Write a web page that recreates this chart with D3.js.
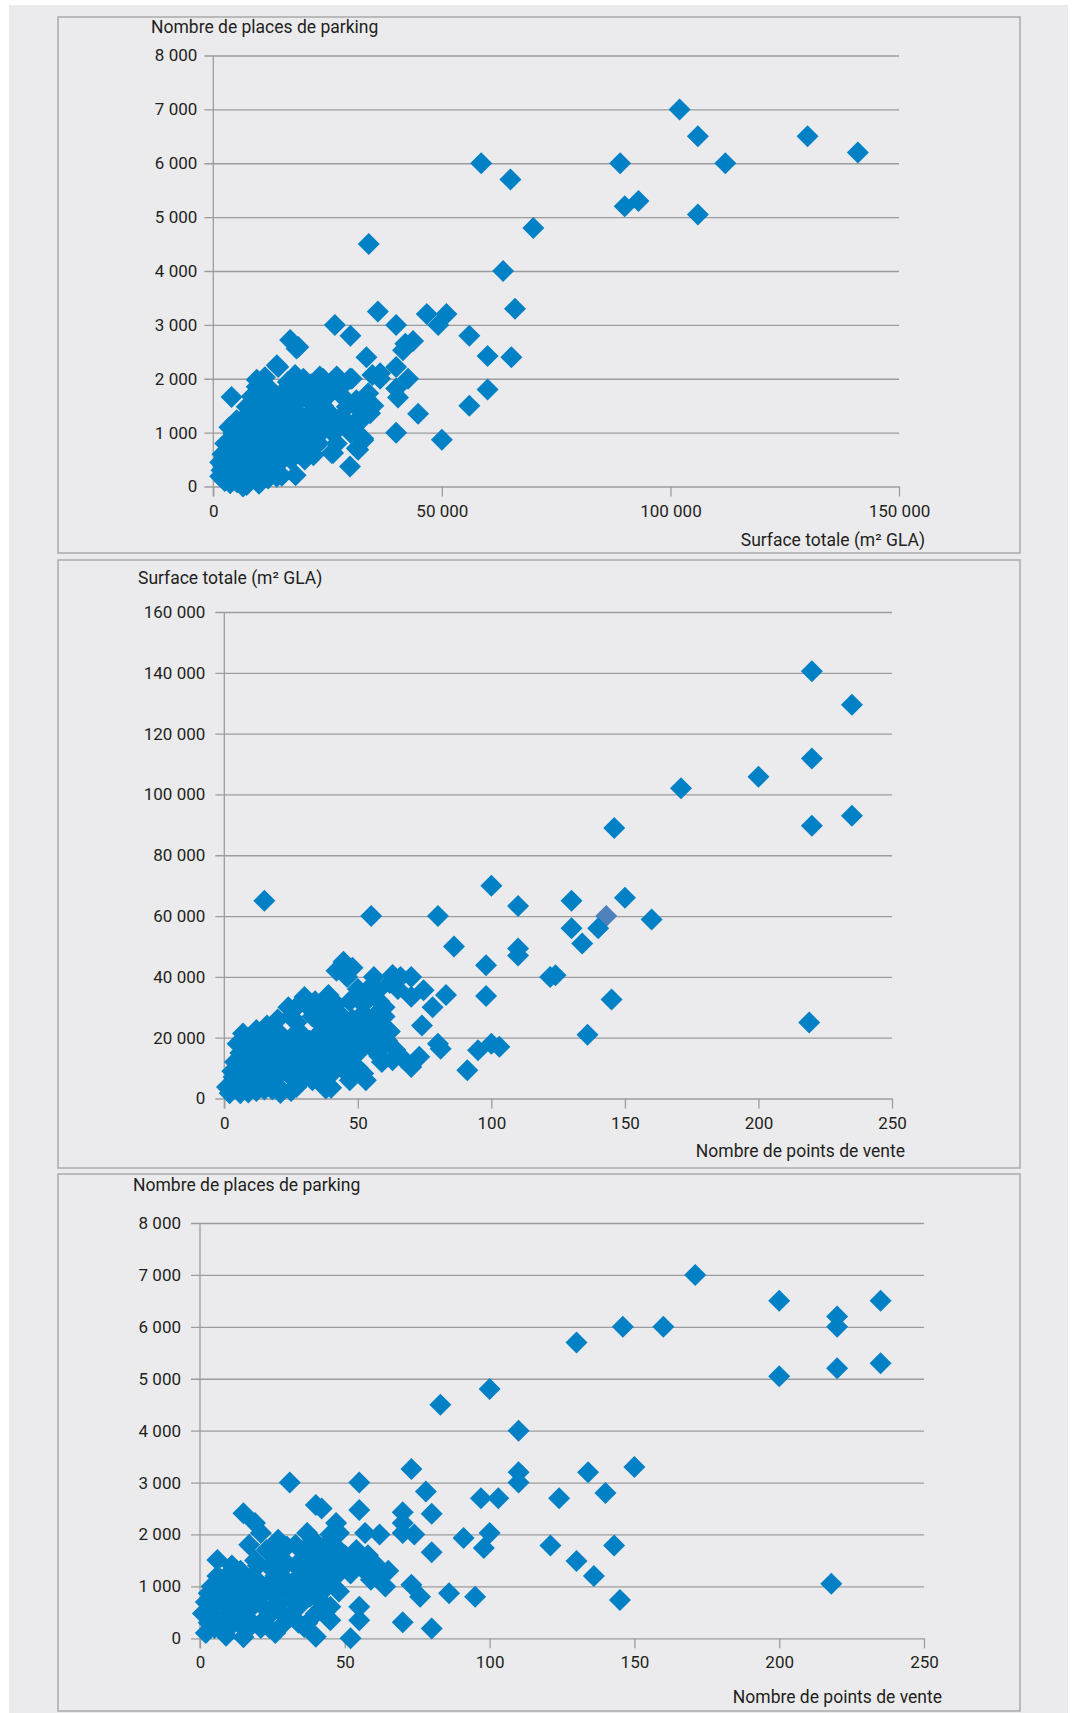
<!DOCTYPE html>
<html><head><meta charset="utf-8">
<script src="https://cdn.jsdelivr.net/npm/d3@7"></script>
<style>
body{margin:0;background:#fff}
text{font-family:Roboto,"Noto Sans",sans-serif;fill:#231f20}
</style>
</head><body>
<svg id="c" width="1073" height="1713"></svg>
<script>
// ---------- DATA ----------
// Panel 1: surface totale (m² GLA) vs nombre de places de parking
const surfaceParking = [
[102000,7000],[106000,6500],[112000,6000],[130000,6500],[141000,6200],[89000,6000],[90000,5200],[93000,5300],[106000,5050],[58600,6000],[65000,5700],[70000,4800],[34000,4500],[63400,4000],[66000,3300],[56000,2800],[60000,2420],[65200,2400],[60000,1800],[56000,1500],[50000,870],
[46700,3200],[49200,3000],[51000,3200],[36000,3250],[26600,3000],[30000,2800],[40000,3000],[44800,1350],[40000,1000],[40400,1650],[40000,1820],[40000,2220],[42600,2000],[42000,2650],[43700,2700],[41500,2530],[33500,2400],[34800,2070],[36500,2000],[33900,1730],[34300,1360],[32800,860],[31700,680],[29900,370],[25900,620],[21900,580],[18000,210],
[29900,2000],[24000,2000],[26600,2000],[19700,2000],[16800,2720],[18200,2560],[18600,2590],[13900,2250],[14200,2220],[4000,1660],[9500,1980],[11300,2030],[16300,1940],[17900,2070],[16000,1820],[20000,1910],[23300,2040],[27000,2040],[30300,2000],
[21400,1900],[25500,1720],[28400,1660],[31300,1600],[31700,1450],[29100,1180],[26800,1150],[23200,1100],[20400,1280],[17500,1090],[14600,920],[12400,1280],[8700,1360],[7300,1100],[5800,930],[4400,750],[3300,560],[2200,380],[1500,190],
[7300,1480],[6600,1230],[12400,1540],[16800,1420],[21100,1360],[24800,1420],[29200,1480],[32800,1450],[31400,1230],[27700,1110],[25500,1050],[32800,890],[31400,710],[26200,620],[13900,180],[11700,310],[9500,430],[3700,60],[7300,30],[2200,180],[2900,490],[2600,800],[4400,990],[5100,1230],[8400,1670],[9500,1850],[11700,1170],[14600,860],[19000,1050],[22600,920],[9500,800],[11700,550],[7300,550],[5800,310],[9500,180],[13100,430],[16000,620],[16800,860],
[1800,300],[2500,100],[3000,250],[3500,400],[4000,150],[4500,500],[5000,700],[5500,200],[6000,600],[6500,900],[7000,400],[7500,750],[8000,250],[8500,1000],[9000,650],[10000,950],[10500,300],[11000,800],[12000,1050],[13000,700],[14000,1200],[15000,1000],[6000,1100],[4800,1000],[3800,850],[10000,1300],[11000,1500],[9000,1550],[8000,1250],[13000,1500],[15500,1300],[18000,1400],[19000,1600],[22000,1500],[24000,1250],[5200,80],[8000,100],[6500,0],[12000,150],[3200,680],[2000,600],[1500,450],[10000,50],[14000,400],[15000,600],[17000,1200],[20000,900],[12500,1800],[10500,1700],[14500,1650],[17000,1750],[22000,1700],
[16000,1300],[18000,1000],[20000,1200],[21000,700],[23000,800],[24000,1500],[26000,1300],[28000,1300],[30000,1000],[27000,800],[19000,750],[17000,500],[15000,200],[12000,700],[10000,600],[8500,300],[7000,200],[6000,800],[5500,450],[4500,300],[3500,1100],[9000,1200],[11000,1000],[13500,1000],[16000,1550],[18500,1800],[21000,1600],[23000,1800],[25500,1900],[14000,1400],[12000,1300],[7000,1300],[20000,500],[22000,1100],[18000,600],[28000,1850],[32000,1200],[35000,1500],[36500,2100]
];
// Panel 2: nombre de points de vente vs surface totale (m² GLA)
const shopsSurface = [
[220,140500],[235,129500],[220,111800],[200,105800],[171,102000],[146,89000],[220,89700],[235,93000],[219,25000],[100,70000],[110,63300],[130,65000],[150,66000],[140,56000],[130,56000],[134,51000],[160,58900],[110,49300],[110,47000],[98,43800],[98,33700],[122,40000],[124,40500],[145,32600],[136,21000],[100,18000],[103,17000],[95,15900],[91,9300],[15,65000],[55,60000],[80,60000],[86,50000],
[44.6,45000],[42,42000],[46,40000],[56,40000],[63,40600],[70,40000],[74.6,35600],[70,33500],[83,34000],[78,30000],[74,24000],[80,18000],[81,16400],[73,13700],[70,10400],[63,12600],[59,12000],[59,17000],[53,6000],[52,8200],[38,3300],[30,33400],[31,30500],[25,27000],[37,29000],[43,28000],[60,30000],[60,27000],[58,32000],[57.6,35600],[12,22500],[7,21400],[20,22000],[36,24700],[47,23000],[51,20300],[56,19500],[45,14800],[38,17000],[30,14800],[26,10400],[20,12600],[14,13700],[8,10400],[3.5,7100],[1,3800],[6,1700],[12,2500],[21,1800],[27,3800],[34,9300],[42,10400],[47,6000],[17,6000],[8.5,6000],[2,1700],
[5,5000],[10,8000],[15,9000],[18,16000],[22,18000],[25,20000],[28,22000],[32,19000],[35,21000],[40,18000],[44,20000],[48,26000],[52,28000],[55,24000],[50,15000],[46,12000],[40,8000],[33,6000],[28,5000],[24,8000],[20,4000],[15,3000],[11,5000],[9,14000],[13,18000],[17,20000],[4,12000],[6,15000],[3,3000],[10,11000],[23,13000],[29,11000],[35,12500],[42,15500],[54,33000],[48,43000],[45,42000],[62,38000],[65,36000],[66,40000],[57,25000],[62,22000],[64,16000],[67,13000],[58,14000],[50,10000],[16,24000],[27,25000],[33,27000],[40,26000],[22,9000],[19,7000],[12,7000],[7,4000],
[3,9000],[6,8000],[9,12000],[11,16000],[14,11000],[16,15000],[18,10000],[21,14000],[23,16000],[25,12000],[27,15000],[30,18000],[32,16000],[34,14000],[36,17000],[38,20000],[41,22000],[43,24000],[45,17000],[47,19000],[49,22000],[52,24000],[53,20000],[55,17000],[57,21000],[59,24000],[61,19000],[44,10000],[48,8000],[38,12000],[31,8000],[26,7000],[18,3000],[25,2500],[9,2000],[13,9000],[5,18000],[10,19000],[14,16000],[20,26000],[24,30000],[28,31000],[34,32000],[39,34000],[42,31000],[47,32000],[50,36000],[55,37000],[52,31000],[56,27000],[40,3500],[36,6000]
];
// Panel 2: one point drawn in a second colour
const shopsSurfaceOther = [[143,60000]];
// Panel 3: nombre de points de vente vs nombre de places de parking
const shopsParking = [
[171,7000],[200,6500],[235,6500],[220,6200],[220,6000],[146,6000],[160,6000],[130,5700],[220,5200],[235,5300],[200,5050],[100,4800],[83,4500],[110,4000],[150,3300],[134,3200],[110,3200],[110,3000],[73,3260],[55,3000],[31,3000],[140,2800],[78,2830],[124,2700],[97,2700],[103,2700],[80,2400],[70,2430],[218,1050],[145,740],[143,1790],[121,1790],[130,1490],[136,1200],[98,1740],[100,2030],[91,1930],[95,800],[86,870],[80,190],[70,310],[52,0],
[55,2470],[15,2410],[19,2220],[21,2030],[17,1800],[40,2570],[42,2500],[37,2030],[30,1770],[25,1700],[6,1510],[47,2220],[48,2030],[57,2030],[62,2000],[70,2030],[74,2000],[70,2220],[80,1660],[73,1030],[76,800],[55,610],[55,350],[64,1000],[59,1130],[55,1450],[51,1380],[47,1510],[59,1380],[63,1250],[41,1380],[39,1640],[43,1770],[45,610],[45,350],[40,30],[37,290],[41,870],[35,870],[29,290],[26,100],[22,350],[15,20],[9,50],[2,100],[1,480],[3,870],[10,1250],[13,1030],[18,1190],[26,1640],[24,1380],[29,1380],[33,1130],[36,1250],[22,870],[18,610],[11,610],[6,350],[13,350],[7,800],[15,870],[27,680],[34,610],[40,480],[36,220],
[4,600],[5,200],[8,700],[10,900],[12,400],[14,700],[16,1100],[18,300],[20,800],[23,1000],[25,500],[28,900],[30,1100],[32,700],[35,1500],[38,1100],[42,1200],[44,1000],[46,1800],[50,1600],[53,1500],[48,900],[43,500],[31,400],[26,1200],[20,1400],[12,1000],[9,1100],[3,300],[16,150],[24,200],[38,800],[47,1200],[57,1500],[61,1400],[65,1300],
[2,700],[4,1000],[6,1200],[8,400],[10,200],[12,800],[14,1300],[16,500],[18,900],[20,1100],[21,200],[22,600],[24,1000],[26,800],[28,500],[29,1500],[31,900],[33,1400],[34,300],[36,1700],[38,1350],[40,1000],[42,700],[44,1550],[46,1300],[48,1700],[50,1450],[52,1250],[54,1700],[56,1350],[58,1600],[60,1200],[27,1900],[23,1700],[33,1800],[39,1900],[45,2000],[11,1400],[8,1000],[5,800],[3,500],[19,1500]
];
// Tick values and titles
const ticksSurfaceX = [0,50000,100000,150000];
const ticksParking = [0,1000,2000,3000,4000,5000,6000,7000,8000];
const ticksSurfaceY = [0,20000,40000,60000,80000,100000,120000,140000,160000];
const ticksShops = [0,50,100,150,200,250];
const titles = {
  parking: "Nombre de places de parking",
  surface: "Surface totale (m\u00B2 GLA)",
  shops: "Nombre de points de vente"
};

// ---------- DRAWING ----------
const svg = d3.select("#c");
const fmt = d3.formatLocale({decimal:",", thousands:" ", grouping:[3], currency:["","\u20AC"]}).format(",d");
const BLUE = "#0081c6", GRID = "#9c9c9c", BOX = "#ababab";

svg.append("rect").attr("x",9).attr("y",5).attr("width",1059).attr("height",1708).attr("fill","#ebebed");

function panel(c) {
  svg.append("rect").attr("x",c.box[0]).attr("y",c.box[1]).attr("width",c.box[2]).attr("height",c.box[3])
     .attr("fill","none").attr("stroke",BOX).attr("stroke-width",1.5);
  const x = d3.scaleLinear().domain(c.xd).range([c.left, c.right]);
  const y = d3.scaleLinear().domain(c.yd).range([c.bottom, c.top]);
  const g = svg.append("g");
  const ya = g.append("g").attr("transform",`translate(${c.left},0)`)
    .call(d3.axisLeft(y).tickValues(c.yt).tickFormat(fmt).tickSize(9).tickPadding(c.ypad).tickSizeOuter(0));
  ya.select(".domain").remove();
  ya.selectAll(".tick line").attr("x1", c.right - c.left).attr("x2",-9).attr("stroke",GRID).attr("stroke-width",1.3);
  ya.selectAll(".tick text").attr("font-size",17).attr("fill","#231f20").attr("font-family",null);
  const xa = g.append("g").attr("transform",`translate(0,${c.bottom})`)
    .call(d3.axisBottom(x).tickValues(c.xt).tickFormat(fmt).tickSize(10).tickPadding(c.xpad).tickSizeOuter(0));
  xa.select(".domain").remove();
  xa.selectAll(".tick line").attr("stroke",GRID).attr("stroke-width",1.3);
  xa.selectAll(".tick text").attr("font-size",17).attr("fill","#231f20").attr("font-family",null);
  g.append("line").attr("x1",c.left).attr("x2",c.left).attr("y1",y(c.yd[1])).attr("y2",c.bottom+10)
    .attr("stroke",GRID).attr("stroke-width",1.3);
  g.append("text").attr("x",c.tx).attr("y",c.ty).attr("font-size",17.5).text(c.ytitle);
  g.append("text").attr("x",c.xtx).attr("y",c.xty).attr("text-anchor","end").attr("font-size",17.5).text(c.xtitle);
  const diamond = r => `M0,${-r}L${r},0L0,${r}L${-r},0Z`;
  if (c.other) g.append("g").selectAll("path").data(c.other).join("path")
    .attr("d",diamond(11)).attr("transform",d=>`translate(${x(d[0])},${y(d[1])})`).attr("fill","#4f81bd");
  g.append("g").selectAll("path").data(c.data).join("path")
    .attr("d",diamond(11)).attr("transform",d=>`translate(${x(d[0])},${y(d[1])})`).attr("fill",BLUE);
}

panel({box:[58,17,962,536], left:213.3, right:899, top:55.5, bottom:486.5,
  xd:[0,150000], yd:[0,8000], xt:ticksSurfaceX, yt:ticksParking, ypad:7, xpad:8,
  ytitle:titles.parking, tx:151, ty:33, xtitle:titles.surface, xtx:925, xty:546, data:surfaceParking});
panel({box:[58,560,962,608], left:224.3, right:892, top:612, bottom:1098.5,
  xd:[0,250], yd:[0,160000], xt:ticksShops, yt:ticksSurfaceY, ypad:10, xpad:8,
  ytitle:titles.surface, tx:138, ty:584, xtitle:titles.shops, xtx:905, xty:1157, data:shopsSurface, other:shopsSurfaceOther});
panel({box:[58,1174,962,537], left:200, right:924, top:1223, bottom:1638.3,
  xd:[0,250], yd:[0,8000], xt:ticksShops, yt:ticksParking, ypad:10, xpad:8,
  ytitle:titles.parking, tx:133, ty:1191, xtitle:titles.shops, xtx:942, xty:1703, data:shopsParking});
</script>
</body></html>
